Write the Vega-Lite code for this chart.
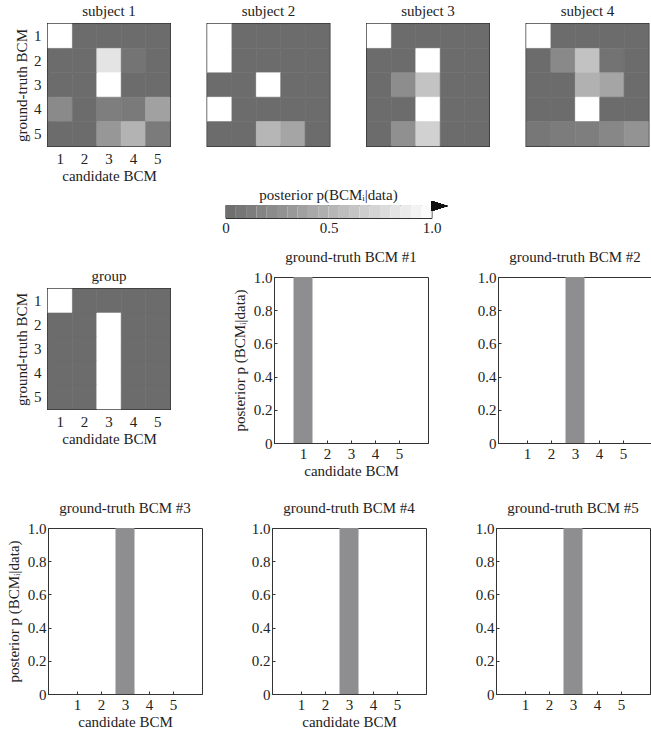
{
  "$schema": "https://vega.github.io/schema/vega-lite/v6.json",
  "background": "white",
  "padding": {"left": 5, "top": 2, "right": 0, "bottom": 0},
  "config": {
    "font": "Liberation Serif, serif",
    "view": {"stroke": "#333333", "strokeWidth": 1},
    "title": {"font": "Liberation Serif, serif", "fontSize": 15, "fontWeight": "normal", "color": "#222222", "offset": 5},
    "style": {"group-title": {"font": "Liberation Serif, serif", "fontSize": 15, "fontWeight": "normal", "fill": "#222222"}},
    "axis": {"labelFont": "Liberation Serif, serif", "titleFont": "Liberation Serif, serif", "labelFontSize": 15, "titleFontSize": 15, "titleFontWeight": "normal", "labelColor": "#222222", "titleColor": "#222222", "domainColor": "#333333", "tickColor": "#333333", "grid": false}
  },
  "datasets": {
    "hm": [
      {"s":"1","t":1,"c":1,"p":1},{"s":"1","t":1,"c":2,"p":0},{"s":"1","t":1,"c":3,"p":0},{"s":"1","t":1,"c":4,"p":0},{"s":"1","t":1,"c":5,"p":0},
      {"s":"1","t":2,"c":1,"p":0},{"s":"1","t":2,"c":2,"p":0},{"s":"1","t":2,"c":3,"p":0.83},{"s":"1","t":2,"c":4,"p":0.06},{"s":"1","t":2,"c":5,"p":0},
      {"s":"1","t":3,"c":1,"p":0},{"s":"1","t":3,"c":2,"p":0},{"s":"1","t":3,"c":3,"p":1},{"s":"1","t":3,"c":4,"p":0},{"s":"1","t":3,"c":5,"p":0},
      {"s":"1","t":4,"c":1,"p":0.22},{"s":"1","t":4,"c":2,"p":0},{"s":"1","t":4,"c":3,"p":0.13},{"s":"1","t":4,"c":4,"p":0.1},{"s":"1","t":4,"c":5,"p":0.38},
      {"s":"1","t":5,"c":1,"p":0},{"s":"1","t":5,"c":2,"p":0},{"s":"1","t":5,"c":3,"p":0.31},{"s":"1","t":5,"c":4,"p":0.5},{"s":"1","t":5,"c":5,"p":0.11},
      {"s":"2","t":1,"c":1,"p":1},{"s":"2","t":1,"c":2,"p":0},{"s":"2","t":1,"c":3,"p":0},{"s":"2","t":1,"c":4,"p":0},{"s":"2","t":1,"c":5,"p":0},
      {"s":"2","t":2,"c":1,"p":1},{"s":"2","t":2,"c":2,"p":0},{"s":"2","t":2,"c":3,"p":0},{"s":"2","t":2,"c":4,"p":0},{"s":"2","t":2,"c":5,"p":0},
      {"s":"2","t":3,"c":1,"p":0},{"s":"2","t":3,"c":2,"p":0},{"s":"2","t":3,"c":3,"p":1},{"s":"2","t":3,"c":4,"p":0},{"s":"2","t":3,"c":5,"p":0},
      {"s":"2","t":4,"c":1,"p":1},{"s":"2","t":4,"c":2,"p":0},{"s":"2","t":4,"c":3,"p":0},{"s":"2","t":4,"c":4,"p":0},{"s":"2","t":4,"c":5,"p":0},
      {"s":"2","t":5,"c":1,"p":0},{"s":"2","t":5,"c":2,"p":0},{"s":"2","t":5,"c":3,"p":0.52},{"s":"2","t":5,"c":4,"p":0.41},{"s":"2","t":5,"c":5,"p":0},
      {"s":"3","t":1,"c":1,"p":1},{"s":"3","t":1,"c":2,"p":0},{"s":"3","t":1,"c":3,"p":0},{"s":"3","t":1,"c":4,"p":0},{"s":"3","t":1,"c":5,"p":0},
      {"s":"3","t":2,"c":1,"p":0},{"s":"3","t":2,"c":2,"p":0},{"s":"3","t":2,"c":3,"p":1},{"s":"3","t":2,"c":4,"p":0},{"s":"3","t":2,"c":5,"p":0},
      {"s":"3","t":3,"c":1,"p":0},{"s":"3","t":3,"c":2,"p":0.24},{"s":"3","t":3,"c":3,"p":0.61},{"s":"3","t":3,"c":4,"p":0},{"s":"3","t":3,"c":5,"p":0},
      {"s":"3","t":4,"c":1,"p":0},{"s":"3","t":4,"c":2,"p":0},{"s":"3","t":4,"c":3,"p":1},{"s":"3","t":4,"c":4,"p":0},{"s":"3","t":4,"c":5,"p":0},
      {"s":"3","t":5,"c":1,"p":0},{"s":"3","t":5,"c":2,"p":0.26},{"s":"3","t":5,"c":3,"p":0.7},{"s":"3","t":5,"c":4,"p":0},{"s":"3","t":5,"c":5,"p":0},
      {"s":"4","t":1,"c":1,"p":1},{"s":"4","t":1,"c":2,"p":0},{"s":"4","t":1,"c":3,"p":0},{"s":"4","t":1,"c":4,"p":0},{"s":"4","t":1,"c":5,"p":0},
      {"s":"4","t":2,"c":1,"p":0},{"s":"4","t":2,"c":2,"p":0.21},{"s":"4","t":2,"c":3,"p":0.6},{"s":"4","t":2,"c":4,"p":0.05},{"s":"4","t":2,"c":5,"p":0},
      {"s":"4","t":3,"c":1,"p":0},{"s":"4","t":3,"c":2,"p":0},{"s":"4","t":3,"c":3,"p":0.49},{"s":"4","t":3,"c":4,"p":0.41},{"s":"4","t":3,"c":5,"p":0},
      {"s":"4","t":4,"c":1,"p":0},{"s":"4","t":4,"c":2,"p":0},{"s":"4","t":4,"c":3,"p":1},{"s":"4","t":4,"c":4,"p":0},{"s":"4","t":4,"c":5,"p":0},
      {"s":"4","t":5,"c":1,"p":0.08},{"s":"4","t":5,"c":2,"p":0.12},{"s":"4","t":5,"c":3,"p":0.13},{"s":"4","t":5,"c":4,"p":0.2},{"s":"4","t":5,"c":5,"p":0.28},
      {"s":"group","t":1,"c":1,"p":1},{"s":"group","t":1,"c":2,"p":0},{"s":"group","t":1,"c":3,"p":0},{"s":"group","t":1,"c":4,"p":0},{"s":"group","t":1,"c":5,"p":0},
      {"s":"group","t":2,"c":1,"p":0},{"s":"group","t":2,"c":2,"p":0},{"s":"group","t":2,"c":3,"p":1},{"s":"group","t":2,"c":4,"p":0},{"s":"group","t":2,"c":5,"p":0},
      {"s":"group","t":3,"c":1,"p":0},{"s":"group","t":3,"c":2,"p":0},{"s":"group","t":3,"c":3,"p":1},{"s":"group","t":3,"c":4,"p":0},{"s":"group","t":3,"c":5,"p":0},
      {"s":"group","t":4,"c":1,"p":0},{"s":"group","t":4,"c":2,"p":0},{"s":"group","t":4,"c":3,"p":1},{"s":"group","t":4,"c":4,"p":0},{"s":"group","t":4,"c":5,"p":0},
      {"s":"group","t":5,"c":1,"p":0},{"s":"group","t":5,"c":2,"p":0},{"s":"group","t":5,"c":3,"p":1},{"s":"group","t":5,"c":4,"p":0},{"s":"group","t":5,"c":5,"p":0}
    ],
    "bars": [
      {"g":1,"c":1,"p":1},{"g":1,"c":2,"p":0},{"g":1,"c":3,"p":0},{"g":1,"c":4,"p":0},{"g":1,"c":5,"p":0},
      {"g":2,"c":1,"p":0},{"g":2,"c":2,"p":0},{"g":2,"c":3,"p":1},{"g":2,"c":4,"p":0},{"g":2,"c":5,"p":0},
      {"g":3,"c":1,"p":0},{"g":3,"c":2,"p":0},{"g":3,"c":3,"p":1},{"g":3,"c":4,"p":0},{"g":3,"c":5,"p":0},
      {"g":4,"c":1,"p":0},{"g":4,"c":2,"p":0},{"g":4,"c":3,"p":1},{"g":4,"c":4,"p":0},{"g":4,"c":5,"p":0},
      {"g":5,"c":1,"p":0},{"g":5,"c":2,"p":0},{"g":5,"c":3,"p":1},{"g":5,"c":4,"p":0},{"g":5,"c":5,"p":0}
    ],
    "cbar": [
      {"lo":0.00,"hi":0.05,"v":0.025},{"lo":0.05,"hi":0.10,"v":0.075},{"lo":0.10,"hi":0.15,"v":0.125},{"lo":0.15,"hi":0.20,"v":0.175},
      {"lo":0.20,"hi":0.25,"v":0.225},{"lo":0.25,"hi":0.30,"v":0.275},{"lo":0.30,"hi":0.35,"v":0.325},{"lo":0.35,"hi":0.40,"v":0.375},
      {"lo":0.40,"hi":0.45,"v":0.425},{"lo":0.45,"hi":0.50,"v":0.475},{"lo":0.50,"hi":0.55,"v":0.525},{"lo":0.55,"hi":0.60,"v":0.575},
      {"lo":0.60,"hi":0.65,"v":0.625},{"lo":0.65,"hi":0.70,"v":0.675},{"lo":0.70,"hi":0.75,"v":0.725},{"lo":0.75,"hi":0.80,"v":0.775},
      {"lo":0.80,"hi":0.85,"v":0.825},{"lo":0.85,"hi":0.90,"v":0.875},{"lo":0.90,"hi":0.95,"v":0.925},{"lo":0.95,"hi":1.00,"v":0.975}
    ]
  },
  "spacing": 21,
  "vconcat": [
    {
      "spacing": 13,
      "vconcat": [
        {
          "spacing": 3,
          "vconcat": [
            {
              "bounds": "flush",
              "spacing": 37.5,
              "hconcat": [
                {
                  "width": 122, "height": 122, "title": "subject 1",
                  "view": {"stroke": "#333333", "strokeWidth": 2},
                  "data": {"name": "hm"},
                  "transform": [{"filter": "datum.s == '1'"}],
                  "mark": {"type": "rect", "strokeWidth": 0.6},
                  "encoding": {
                    "x": {"field": "c", "type": "ordinal", "scale": {"paddingInner": 0, "paddingOuter": 0}, "axis": {"title": "candidate BCM", "labelAngle": 0, "ticks": false, "domain": false, "labelPadding": 5, "titlePadding": 2}},
                    "y": {"field": "t", "type": "ordinal", "scale": {"paddingInner": 0, "paddingOuter": 0}, "axis": {"title": "ground-truth BCM", "ticks": false, "domain": false, "labelPadding": 7, "titlePadding": 4}},
                    "color": {"field": "p", "type": "quantitative", "scale": {"domain": [0, 1], "range": ["#6c6c6c", "#ffffff"]}, "legend": null},
                    "stroke": {"field": "p", "type": "quantitative", "scale": {"domain": [0, 1], "range": ["#6c6c6c", "#ffffff"]}, "legend": null}
                  }
                },
                {
                  "width": 122, "height": 122, "title": "subject 2",
                  "view": {"stroke": "#333333", "strokeWidth": 2},
                  "data": {"name": "hm"},
                  "transform": [{"filter": "datum.s == '2'"}],
                  "mark": {"type": "rect", "strokeWidth": 0.6},
                  "encoding": {
                    "x": {"field": "c", "type": "ordinal", "scale": {"paddingInner": 0, "paddingOuter": 0}, "axis": null},
                    "y": {"field": "t", "type": "ordinal", "scale": {"paddingInner": 0, "paddingOuter": 0}, "axis": null},
                    "color": {"field": "p", "type": "quantitative", "scale": {"domain": [0, 1], "range": ["#6c6c6c", "#ffffff"]}, "legend": null},
                    "stroke": {"field": "p", "type": "quantitative", "scale": {"domain": [0, 1], "range": ["#6c6c6c", "#ffffff"]}, "legend": null}
                  }
                },
                {
                  "width": 122, "height": 122, "title": "subject 3",
                  "view": {"stroke": "#333333", "strokeWidth": 2},
                  "data": {"name": "hm"},
                  "transform": [{"filter": "datum.s == '3'"}],
                  "mark": {"type": "rect", "strokeWidth": 0.6},
                  "encoding": {
                    "x": {"field": "c", "type": "ordinal", "scale": {"paddingInner": 0, "paddingOuter": 0}, "axis": null},
                    "y": {"field": "t", "type": "ordinal", "scale": {"paddingInner": 0, "paddingOuter": 0}, "axis": null},
                    "color": {"field": "p", "type": "quantitative", "scale": {"domain": [0, 1], "range": ["#6c6c6c", "#ffffff"]}, "legend": null},
                    "stroke": {"field": "p", "type": "quantitative", "scale": {"domain": [0, 1], "range": ["#6c6c6c", "#ffffff"]}, "legend": null}
                  }
                },
                {
                  "width": 122, "height": 122, "title": "subject 4",
                  "view": {"stroke": "#333333", "strokeWidth": 2},
                  "data": {"name": "hm"},
                  "transform": [{"filter": "datum.s == '4'"}],
                  "mark": {"type": "rect", "strokeWidth": 0.6},
                  "encoding": {
                    "x": {"field": "c", "type": "ordinal", "scale": {"paddingInner": 0, "paddingOuter": 0}, "axis": null},
                    "y": {"field": "t", "type": "ordinal", "scale": {"paddingInner": 0, "paddingOuter": 0}, "axis": null},
                    "color": {"field": "p", "type": "quantitative", "scale": {"domain": [0, 1], "range": ["#6c6c6c", "#ffffff"]}, "legend": null},
                    "stroke": {"field": "p", "type": "quantitative", "scale": {"domain": [0, 1], "range": ["#6c6c6c", "#ffffff"]}, "legend": null}
                  }
                }
              ]
            },
            {
              "spacing": 171.5,
              "hconcat": [
                {"width": 1, "height": 1, "data": {"values": []}, "mark": "point", "view": {"stroke": null}},
                {
                  "width": 206, "height": 13,
                  "title": {"text": "posterior p(BCMᵢ|data)", "offset": -2},
                  "data": {"name": "cbar"},
                  "layer": [
                    {
                      "mark": "rect",
                      "encoding": {
                        "x": {"field": "lo", "type": "quantitative", "scale": {"domain": [0, 1], "nice": false}, "axis": {"values": [0, 0.5, 1], "labelExpr": "datum.value == 1 ? '1.0' : datum.value == 0 ? '0' : '0.5'", "title": null, "ticks": false, "domain": false, "labelPadding": 2, "labelFlush": false}},
                        "x2": {"field": "hi"},
                        "color": {"field": "v", "type": "quantitative", "scale": {"domain": [0, 1], "range": ["#606060", "#ffffff"]}, "legend": null}
                      }
                    },
                    {
                      "mark": {"type": "point", "shape": "M-1,-0.62L1,0L-1,0.62Z", "filled": true, "color": "#111111", "size": 256, "opacity": 1},
                      "encoding": {
                        "x": {"datum": 1.039, "type": "quantitative"},
                        "y": {"datum": 0.92, "type": "quantitative", "scale": {"domain": [0, 1]}, "axis": null}
                      }
                    }
                  ]
                }
              ]
            }
          ]
        },
        {
          "spacing": 59,
          "hconcat": [
            {
              "spacing": -11,
              "vconcat": [
                {"width": 1, "height": 1, "data": {"values": []}, "mark": "point", "view": {"stroke": null}},
                {
                  "width": 122, "height": 120, "title": "group",
                  "view": {"stroke": "#333333", "strokeWidth": 2},
                  "data": {"name": "hm"},
                  "transform": [{"filter": "datum.s == 'group'"}],
                  "mark": {"type": "rect", "strokeWidth": 0.6},
                  "encoding": {
                    "x": {"field": "c", "type": "ordinal", "scale": {"paddingInner": 0, "paddingOuter": 0}, "axis": {"title": "candidate BCM", "labelAngle": 0, "ticks": false, "domain": false, "labelPadding": 5, "titlePadding": 2}},
                    "y": {"field": "t", "type": "ordinal", "scale": {"paddingInner": 0, "paddingOuter": 0}, "axis": {"title": "ground-truth BCM", "ticks": false, "domain": false, "labelPadding": 7, "titlePadding": 4}},
                    "color": {"field": "p", "type": "quantitative", "scale": {"domain": [0, 1], "range": ["#6c6c6c", "#ffffff"]}, "legend": null},
                    "stroke": {"field": "p", "type": "quantitative", "scale": {"domain": [0, 1], "range": ["#6c6c6c", "#ffffff"]}, "legend": null}
                  }
                }
              ]
            },
            {
              "bounds": "flush",
              "spacing": 70,
              "hconcat": [
                {
                  "width": 154, "height": 166, "title": "ground-truth BCM #1",
                  "data": {"name": "bars"},
                  "transform": [{"filter": "datum.g == 1"}],
                  "mark": {"type": "bar", "width": 19, "color": "#8e8e90"},
                  "encoding": {
                    "x": {"field": "c", "type": "quantitative", "scale": {"domain": [0, 6], "nice": false}, "axis": {"values": [1, 2, 3, 4, 5], "title": "candidate BCM", "tickSize": -3, "labelPadding": 6, "titlePadding": 2}},
                    "y": {"field": "p", "type": "quantitative", "scale": {"domain": [0, 1], "nice": false}, "axis": {"values": [0, 0.2, 0.4, 0.6, 0.8, 1], "labelExpr": "datum.value == 0 ? '0' : format(datum.value, '.1f')", "title": "posterior p (BCMᵢ|data)", "tickSize": -3, "labelPadding": 5, "titlePadding": 6, "labelFlush": false}}
                  }
                },
                {
                  "width": 154, "height": 166, "title": "ground-truth BCM #2",
                  "data": {"name": "bars"},
                  "transform": [{"filter": "datum.g == 2"}],
                  "mark": {"type": "bar", "width": 19, "color": "#8e8e90"},
                  "encoding": {
                    "x": {"field": "c", "type": "quantitative", "scale": {"domain": [0, 6], "nice": false}, "axis": {"values": [1, 2, 3, 4, 5], "title": null, "tickSize": -3, "labelPadding": 6}},
                    "y": {"field": "p", "type": "quantitative", "scale": {"domain": [0, 1], "nice": false}, "axis": {"values": [0, 0.2, 0.4, 0.6, 0.8, 1], "labelExpr": "datum.value == 0 ? '0' : format(datum.value, '.1f')", "title": null, "tickSize": -3, "labelPadding": 5, "labelFlush": false}}
                  }
                }
              ]
            }
          ]
        }
      ]
    },
    {
      "bounds": "flush",
      "spacing": 70,
      "hconcat": [
        {
          "width": 154, "height": 166, "title": "ground-truth BCM #3",
          "data": {"name": "bars"},
          "transform": [{"filter": "datum.g == 3"}],
          "mark": {"type": "bar", "width": 19, "color": "#8e8e90"},
          "encoding": {
            "x": {"field": "c", "type": "quantitative", "scale": {"domain": [0, 6], "nice": false}, "axis": {"values": [1, 2, 3, 4, 5], "title": "candidate BCM", "tickSize": -3, "labelPadding": 6, "titlePadding": 2}},
            "y": {"field": "p", "type": "quantitative", "scale": {"domain": [0, 1], "nice": false}, "axis": {"values": [0, 0.2, 0.4, 0.6, 0.8, 1], "labelExpr": "datum.value == 0 ? '0' : format(datum.value, '.1f')", "title": "posterior p (BCMᵢ|data)", "tickSize": -3, "labelPadding": 5, "titlePadding": 6, "labelFlush": false}}
          }
        },
        {
          "width": 154, "height": 166, "title": "ground-truth BCM #4",
          "data": {"name": "bars"},
          "transform": [{"filter": "datum.g == 4"}],
          "mark": {"type": "bar", "width": 19, "color": "#8e8e90"},
          "encoding": {
            "x": {"field": "c", "type": "quantitative", "scale": {"domain": [0, 6], "nice": false}, "axis": {"values": [1, 2, 3, 4, 5], "title": "candidate BCM", "tickSize": -3, "labelPadding": 6, "titlePadding": 2}},
            "y": {"field": "p", "type": "quantitative", "scale": {"domain": [0, 1], "nice": false}, "axis": {"values": [0, 0.2, 0.4, 0.6, 0.8, 1], "labelExpr": "datum.value == 0 ? '0' : format(datum.value, '.1f')", "title": null, "tickSize": -3, "labelPadding": 5, "labelFlush": false}}
          }
        },
        {
          "width": 154, "height": 166, "title": "ground-truth BCM #5",
          "data": {"name": "bars"},
          "transform": [{"filter": "datum.g == 5"}],
          "mark": {"type": "bar", "width": 19, "color": "#8e8e90"},
          "encoding": {
            "x": {"field": "c", "type": "quantitative", "scale": {"domain": [0, 6], "nice": false}, "axis": {"values": [1, 2, 3, 4, 5], "title": null, "tickSize": -3, "labelPadding": 6}},
            "y": {"field": "p", "type": "quantitative", "scale": {"domain": [0, 1], "nice": false}, "axis": {"values": [0, 0.2, 0.4, 0.6, 0.8, 1], "labelExpr": "datum.value == 0 ? '0' : format(datum.value, '.1f')", "title": null, "tickSize": -3, "labelPadding": 5, "labelFlush": false}}
          }
        }
      ]
    }
  ]
}
